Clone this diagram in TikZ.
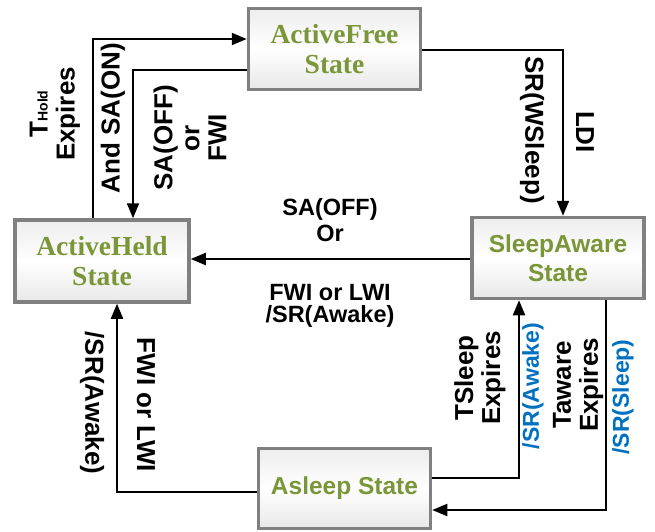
\documentclass[tikz,border=0pt]{standalone}
\usepackage{fontspec}
\setmainfont{Liberation Sans}
\newfontfamily\boxserif{Liberation Serif}
\usetikzlibrary{arrows.meta}
\definecolor{stateGreen}{RGB}{122,150,56}
\definecolor{labelBlue}{RGB}{0,112,192}
\definecolor{borderGray}{RGB}{128,128,128}
\begin{document}
\begin{tikzpicture}[x=1pt,y=-1pt,
  statebox/.style={draw=borderGray, line width=3.5pt, top color=gray!14, bottom color=gray!18, middle color=white,
    minimum width=172pt, minimum height=81pt, inner sep=0pt, align=center, text=stateGreen},
  serifstate/.style={statebox, font=\boxserif\bfseries\fontsize{27.5}{30}\selectfont},
  sansstate/.style={statebox, font=\bfseries\fontsize{24.5}{29}\selectfont},
  arr/.style={line width=2pt, -{Triangle[length=15pt,width=12pt]}},
  hlab/.style={font=\bfseries\fontsize{23.5}{26}\selectfont, align=center, inner sep=0pt},
  vlab/.style={font=\bfseries\fontsize{26}{27}\selectfont, align=center, inner sep=0pt},
  blab/.style={font=\bfseries\fontsize{23}{26}\selectfont, text=labelBlue, align=center, inner sep=0pt}]
\useasboundingbox (0,0) rectangle (655,532);

% states
\node[serifstate] (AF) at (334.5,49) {ActiveFree\\State};
\node[serifstate, minimum width=174pt, minimum height=82pt] (AH) at (102,261) {ActiveHeld\\State};
\node[sansstate] (SA) at (558,258) {SleepAware\\State};
\node[sansstate, minimum height=80pt] (AS) at (344.5,488.5) {Asleep State};

% routing coordinates
\coordinate (c1) at (93,39);
\coordinate (c2) at (133,70);
\coordinate (c3) at (563,50);
\coordinate (c4) at (330,259);
\coordinate (c5) at (117,492);
\coordinate (c6) at (519,478);
\coordinate (c7) at (606,510);

% connectors
\draw[arr] (AH.north -| c1) |- (AF.west |- c1);
\draw[arr] (AF.west |- c2) -| (AH.north -| c2);
\draw[arr] (AF.east |- c3) -| (SA.north -| c3);
\draw[arr] (SA.west |- c4) -- (AH.east |- c4);
\draw[arr] (AS.west |- c5) -| (AH.south -| c5);
\draw[arr] (AS.east |- c6) -| (SA.south -| c6);
\draw[arr] (SA.south -| c7) |- (AS.east |- c7);

% labels
\node[vlab, rotate=90] (l1) at (55,114) {T{\fontsize{14}{14}\selectfont Hold}\\Expires};
\node[vlab, rotate=90] (l2) at (113,118) {And SA(ON)};
\node[vlab, rotate=90] (l3) at (190,138) {SA(OFF)\\or\\FWI};
\node[vlab, rotate=-90] (l4) at (532,130) {SR(WSleep)};
\node[vlab, rotate=-90] (l5) at (585,132) {LDI};
\node[hlab] (l6) at (330,220) {SA(OFF)\\Or};
\node[hlab, font=\bfseries\fontsize{23.5}{22}\selectfont] (l7) at (330,306) {FWI or LWI\\/SR(Awake)};
\node[vlab, rotate=-90] (l8) at (92,403) {/SR(Awake)};
\node[vlab, rotate=-90] (l9) at (146,405) {FWI or LWI};
\node[vlab, rotate=90] (l10) at (480,378) {TSleep\\Expires};
\node[blab, rotate=90] (l11) at (533,386) {/SR(Awake)};
\node[vlab, rotate=90] (l12) at (578,385) {Taware\\Expires};
\node[blab, rotate=90] (l13) at (623,397) {/SR(Sleep)};
\end{tikzpicture}
\end{document}
